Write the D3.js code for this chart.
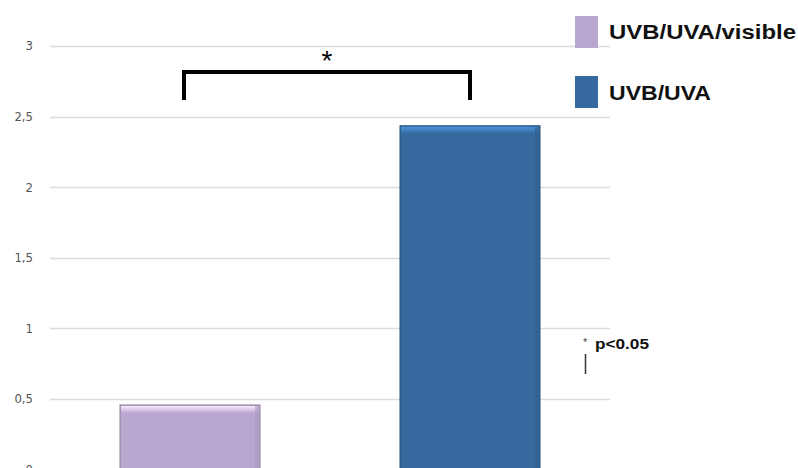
<!DOCTYPE html>
<html><head><meta charset="utf-8">
<script src="https://cdn.jsdelivr.net/npm/d3@7/dist/d3.min.js"></script>
<style>body{margin:0;background:#fff}svg{display:block}</style>
</head><body>
<script>
const categories = ["UVB/UVA/visible", "UVB/UVA"];
const values = [0.457, 2.435];
const colors = ["#b8a8d0", "#366a9e"];
const tickValues = [0, 0.5, 1, 1.5, 2, 2.5, 3];
const tickLabels = ["0", "0,5", "1", "1,5", "2", "2,5", "3"];
const bracketTop = 2.815, bracketBottom = 2.618;
const sigMark = "*";
const note = "p<0.05";

const W = 798, H = 468;
const svg = d3.select("body").append("svg").attr("width", W).attr("height", H);
const defs = svg.append("defs");

const x = d3.scaleBand().domain(categories).range([50, 610]).paddingInner(0.5).paddingOuter(0.25);
const y = d3.scaleLinear().domain([0, 3]).range([469.5, 46]);

// gridlines
svg.append("g").selectAll("line").data(tickValues).join("line")
  .attr("x1", 50).attr("x2", 610)
  .attr("y1", d => Math.round(y(d)) + 0.5).attr("y2", d => Math.round(y(d)) + 0.5)
  .attr("stroke", "#dcdcdc").attr("stroke-width", 1.5);

// y axis labels
const yAxis = d3.axisLeft(y).tickValues(tickValues)
  .tickFormat((d, i) => tickLabels[i]).tickSize(0).tickPadding(0);
const ga = svg.append("g").attr("transform", "translate(33,0)").call(yAxis);
ga.select(".domain").remove();
ga.selectAll("text").attr("font-family", "DejaVu Sans Condensed, DejaVu Sans, sans-serif").attr("font-size", 13)
  .attr("fill", "#555").attr("dy", "0.3em");

// gradients for bevel look
colors.forEach((c, i) => {
  const g = defs.append("linearGradient").attr("id", "top" + i).attr("x1", 0).attr("x2", 0).attr("y1", 0).attr("y2", 1);
  g.append("stop").attr("offset", 0).attr("stop-color", d3.color(c).brighter(0.9));
  g.append("stop").attr("offset", 1).attr("stop-color", c);
});

const bars = svg.append("g").selectAll("g").data(categories).join("g");
bars.append("rect")
  .attr("x", d => x(d)).attr("width", x.bandwidth())
  .attr("y", (d, i) => y(values[i])).attr("height", (d, i) => y(0) - y(values[i]))
  .attr("fill", (d, i) => colors[i])
  .attr("stroke", (d, i) => d3.color(colors[i]).darker(0.8)).attr("stroke-width", 1);
bars.append("rect")
  .attr("x", d => x(d) + 1).attr("width", x.bandwidth() - 2)
  .attr("y", (d, i) => y(values[i]) + 1).attr("height", 7)
  .attr("fill", (d, i) => "url(#top" + i + ")");
bars.append("rect")
  .attr("x", d => x(d) + x.bandwidth() - 5).attr("width", 4)
  .attr("y", (d, i) => y(values[i]) + 1).attr("height", (d, i) => y(0) - y(values[i]))
  .attr("fill", (d, i) => d3.color(colors[i]).darker(0.3)).attr("opacity", 0.6);

// significance bracket
const bx1 = x(categories[0]) + x.bandwidth() / 2 - 6;
const bx2 = x(categories[1]) + x.bandwidth() / 2;
svg.append("path")
  .attr("d", `M${bx1},${y(bracketBottom)}V${y(bracketTop)}H${bx2}V${y(bracketBottom)}`)
  .attr("fill", "none").attr("stroke", "#000").attr("stroke-width", 4);
svg.append("text").attr("x", (bx1 + bx2) / 2).attr("y", 70).attr("text-anchor", "middle")
  .attr("font-family", "Liberation Sans, Arial, sans-serif").attr("font-size", 28).text(sigMark);

// legend
const leg = svg.append("g").selectAll("g").data(categories).join("g")
  .attr("transform", (d, i) => `translate(575,${16 + i * 60})`);
leg.append("rect").attr("width", 23).attr("height", 32).attr("fill", (d, i) => colors[i]);
leg.append("text").attr("x", 34).attr("y", (d, i) => 23 + i * 0.5)
  .attr("font-family", "Liberation Sans, Arial, sans-serif").attr("font-weight", "bold")
  .attr("font-size", 20).attr("fill", "#111")
  .attr("textLength", (d, i) => i === 0 ? 187 : 102).attr("lengthAdjust", "spacingAndGlyphs")
  .text(d => d);

// note
svg.append("text").attr("x", 583).attr("y", 346).attr("font-family", "Liberation Sans, Arial, sans-serif")
  .attr("font-size", 11).attr("fill", "#444").text("*");
svg.append("text").attr("x", 595).attr("y", 349).attr("font-family", "Liberation Sans, Arial, sans-serif")
  .attr("font-weight", "bold").attr("font-size", 15).attr("fill", "#111")
  .attr("textLength", 54).attr("lengthAdjust", "spacingAndGlyphs").text(note);
svg.append("line").attr("x1", 585.5).attr("x2", 585.5).attr("y1", 354).attr("y2", 374)
  .attr("stroke", "#333").attr("stroke-width", 1.5);
</script>
</body></html>
